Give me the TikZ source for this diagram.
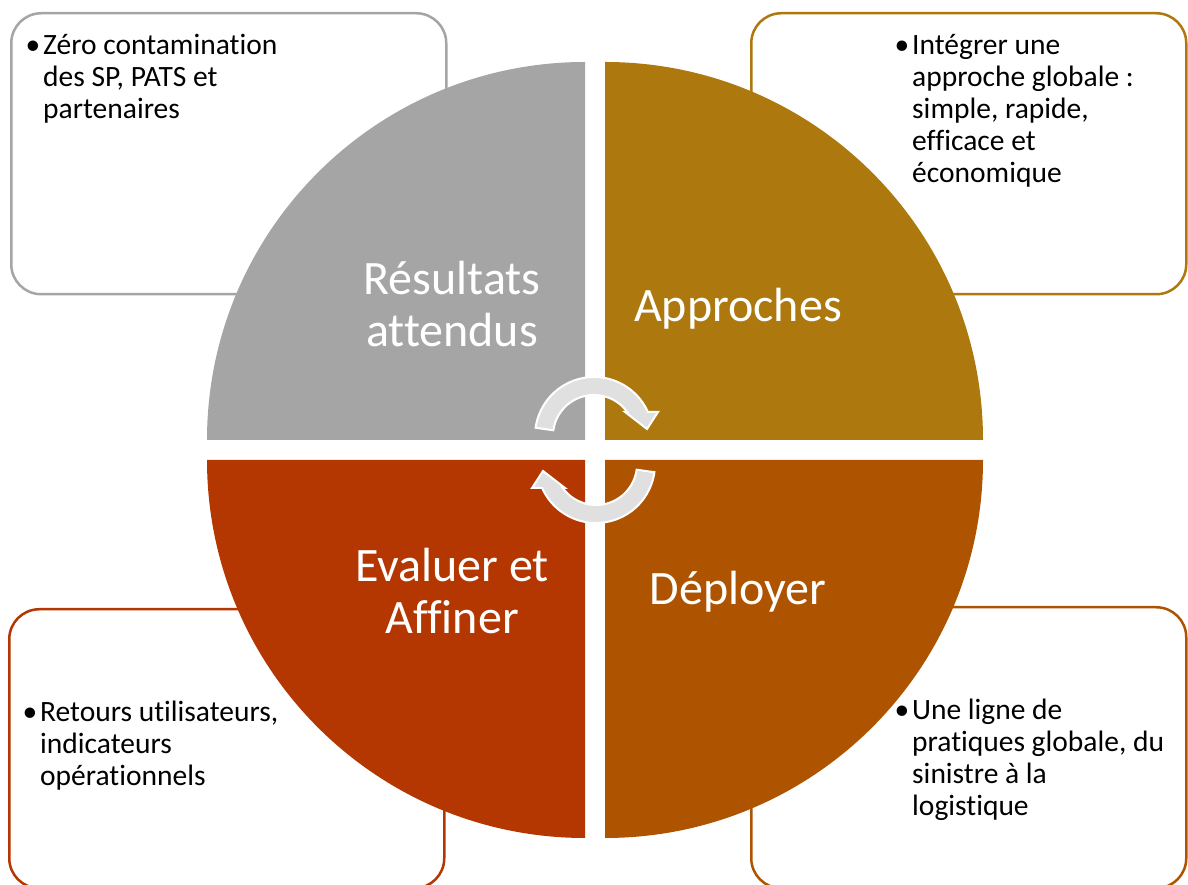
\documentclass[tikz,border=0pt]{standalone}
\usepackage{fontspec}
\setmainfont{Carlito}[Ligatures=CommonOff]
\usetikzlibrary{positioning}
\definecolor{gris}{HTML}{A5A5A5}
\definecolor{ocre}{HTML}{AD780E}
\definecolor{rouille}{HTML}{AE5400}
\definecolor{brique}{HTML}{B43600}
\definecolor{grisclair}{HTML}{E0E0E0}
\newcommand{\puce}[1]{\parbox[t]{330pt}{\raggedright\fontsize{29.5}{32}\selectfont\leavevmode\llap{•\hspace{3pt}}#1}}
\newcommand{\etiq}[1]{\parbox[t]{300pt}{\centering\fontsize{48}{52}\selectfont #1}}

\begin{document}
\begin{tikzpicture}[
    x=1pt,y=1pt,
    cadre/.style={rectangle,rounded corners=30pt,line width=2.5pt,fill=white,minimum width=435pt,anchor=north west,inner sep=0pt},
    texte/.style={inner sep=0pt,anchor=base west,text=black},
    titre/.style={inner sep=0pt,anchor=base,text=white},
    fleche/.style={fill=grisclair,draw=white,line width=2pt}
  ]
    \useasboundingbox (0,0) rectangle (1188,885);

    % cadres
    \node (C1) at (10,873) [cadre,draw=gris,minimum height=281pt] {};
    \node (C2) at (750,873) [cadre,draw=ocre,minimum height=281pt] {};
    \node (C3) at (750,279) [cadre,draw=rouille,minimum height=281pt] {};
    \node (C4) at (8,277) [cadre,draw=brique,minimum height=279pt] {};

    % quartiers
    \foreach \c/\a/\dx/\dy in {gris/90/-10/10, ocre/0/10/10, rouille/270/10/-10, brique/180/-10/-10}
      \fill[\c] ({595+\dx},{435+\dy}) -- ++(\a:378) arc[start angle=\a,delta angle=90,radius=378] -- cycle;

    % fleches du cycle
    \foreach \r in {0,180}
      \filldraw[fleche,shift={(595,435)},rotate=\r,shift={(-1,14)}]
        (172:59) arc[start angle=172,end angle=24,radius=59] -- (64,24) -- (53,7) -- (31,24) -- (33.2,24)
        arc[start angle=35.8,end angle=172,radius=41] -- cycle;

    % titres
    \node (T1) at (452,590) [titre] {\etiq{Résultats\\attendus}};
    \node (T2) at (738,563) [titre] {\etiq{Approches}};
    \node (T3) at (738,280) [titre] {\etiq{Déployer}};
    \node (T4) at (452,303) [titre] {\etiq{Evaluer et\\Affiner}};

    % textes
    \node (P1) at (43,830) [texte] {\puce{Zéro contamination\\des SP, PATS et\\partenaires}};
    \node (P2) at (912,830) [texte] {\puce{Intégrer une\\approche globale :\\simple, rapide,\\efficace et\\économique}};
    \node (P3) at (912,165) [texte] {\puce{Une ligne de\\pratiques globale, du\\sinistre à la\\logistique}};
    \node (P4) at (40,163) [texte] {\puce{Retours utilisateurs,\\indicateurs\\opérationnels}};
\end{tikzpicture}
\end{document}
